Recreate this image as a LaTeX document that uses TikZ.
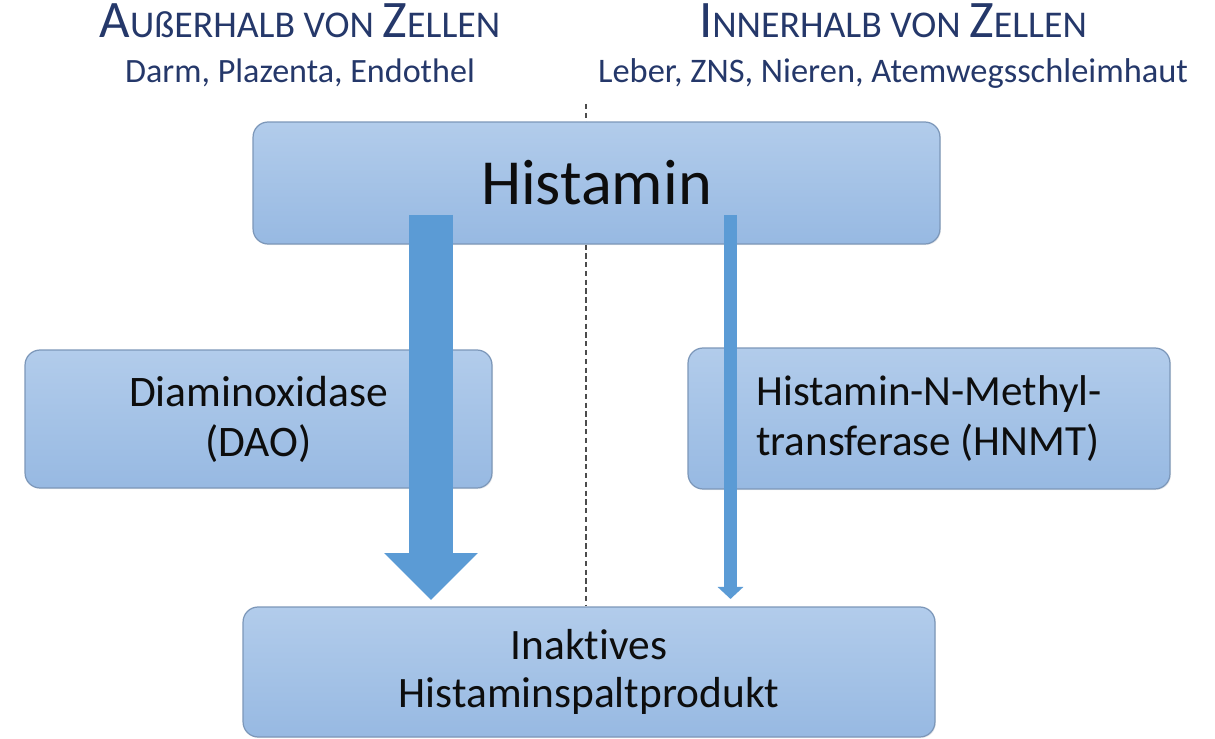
\documentclass[tikz,border=0pt]{standalone}
\usepackage{fontspec}
\setmainfont{Carlito}[Ligatures=NoCommon]
\usetikzlibrary{arrows.meta,shadows}

\definecolor{headblue}{HTML}{25386A}
\definecolor{boxtop}{HTML}{B2CCEB}
\definecolor{boxbot}{HTML}{97B9E2}
\definecolor{boxline}{HTML}{7C97B9}
\definecolor{arrowblue}{HTML}{5B9BD5}
\newcommand{\hdcap}[1]{{\fontsize{30}{34}\selectfont #1}}

\begin{document}
\begin{tikzpicture}[x=0.02cm, y=-0.02cm,
  box/.style = {draw=boxline, line width=0.7pt, rounded corners=0.3cm,
    top color=boxtop, bottom color=boxbot, inner sep=0pt, align=center,
    text=black!95, drop shadow={shadow xshift=0.6pt, shadow yshift=-0.6pt, opacity=0.15}},
  head/.style = {text=headblue, anchor=base},
  flow/.style = {draw=arrowblue}]
\useasboundingbox (0,0) rectangle (1215,739);

% headings
\node[head, font=\fontsize{21.5}{24}\selectfont] (outT) at (300,38) {\hdcap{A}UßERHALB VON \hdcap{Z}ELLEN};
\node[head, font=\fontsize{19.4}{22}\selectfont] (outS) at (300,83) {Darm, Plazenta, Endothel};
\node[head, font=\fontsize{21.5}{24}\selectfont] (inT) at (893,38) {\hdcap{I}NNERHALB VON \hdcap{Z}ELLEN};
\node[head, font=\fontsize{19.6}{22}\selectfont] (inS) at (893,83) {Leber, ZNS, Nieren, Atemwegsschleimhaut};

% divider
\coordinate (divT) at (586,104);
\coordinate (divB) at (586,606);
\draw[black!70, line width=0.6pt, dash pattern=on 3pt off 2pt] (divT) -- (divB);

% boxes
\node[box, minimum width=13.74cm, minimum height=2.44cm, font=\fontsize{36.6}{40}\selectfont] (hist) at (596.5,183) {Histamin};
\node[box, minimum width=9.34cm, minimum height=2.76cm, font=\fontsize{24.8}{28.5}\selectfont] (dao) at (258.5,419) {Diaminoxidase\\(DAO)};
\node[box, minimum width=9.64cm, minimum height=2.82cm, font=\fontsize{24.5}{28.5}\selectfont, align=left] (hnmt) at (929,418.5) {Histamin-N-Methyl-\\transferase (HNMT)};
\node[box, minimum width=13.84cm, minimum height=2.6cm, font=\fontsize{24.7}{27}\selectfont] (prod) at (589,672) {Inaktives\\Histaminspaltprodukt};

% arrows
\coordinate (daoS) at (431,215);
\coordinate (daoE) at (431,600);
\coordinate (hnmtS) at (730.5,215);
\coordinate (hnmtE) at (730.5,599);
\draw[flow, line width=0.9cm, -{Triangle[length=0.94cm, width=1.82cm]}] (daoS) -- (daoE);
\draw[flow, line width=0.26cm, -{Triangle[length=0.24cm, width=0.5cm]}] (hnmtS) -- (hnmtE);
\end{tikzpicture}
\end{document}
